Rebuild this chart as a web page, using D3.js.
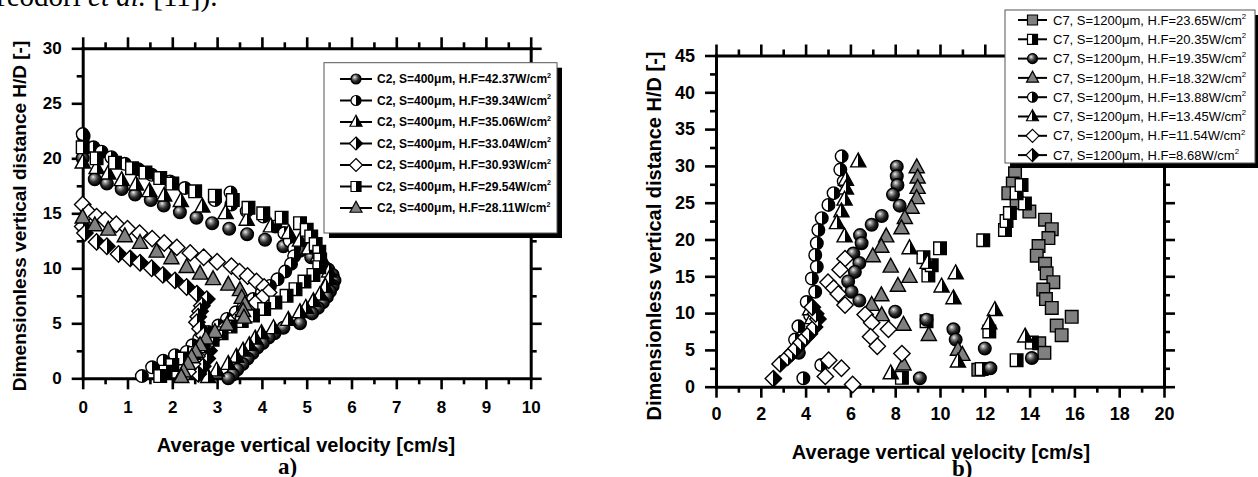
<!doctype html>
<html>
<head>
    <script src="https://d3js.org/d3.v7.min.js"></script>
    <style>
        body { margin: 0; background: #fff; }
        svg text { font-family: "Liberation Sans", Arial, sans-serif; }
    </style>
</head>
<body>
<svg width="1258" height="477"></svg>
<script>

    // ---------- panel a) : C2, S=400um ----------
    var velTicksA = [0, 1, 2, 3, 4, 5, 6, 7, 8, 9, 10];
    var velMinorA = [0.5, 1.5, 2.5, 3.5, 4.5, 5.5, 6.5, 7.5, 8.5, 9.5];
    var hdTicksA = [0, 5, 10, 15, 20, 25, 30];
    var hdMinorA = [2.5, 7.5, 12.5, 17.5, 22.5, 27.5];
    var heatFluxA = ["42.37", "39.34", "35.06", "33.04", "30.93", "29.54", "28.11"];

    // [velocity cm/s, H/D]
    var a1 = [[0.02,22.0],[0.0,20.0],[0.27,18.1],[0.54,17.7],[0.87,17.2],[1.17,16.7],[1.52,16.2],[1.81,15.7],[2.17,15.1],[2.54,14.6],[2.89,14.1],[3.27,13.6],[3.67,13.1],[4.07,12.6],[4.48,12.0],[4.85,11.6],[5.10,11.0],[5.30,10.4],[5.48,9.9],[5.58,9.4],[5.62,8.9],[5.58,8.4],[5.52,7.9],[5.45,7.4],[5.36,6.9],[5.25,6.4],[5.12,5.9],[4.85,5.0],[4.48,4.6],[4.28,4.1],[4.15,3.7],[4.02,3.2],[3.90,2.8],[3.79,2.3],[3.68,1.8],[3.57,1.3],[3.45,0.8],[3.35,0.35],[3.25,0.0]];
    var a2 = [[0.0,22.2],[0.24,21.0],[0.42,20.6],[0.64,20.1],[0.94,19.5],[1.24,19.0],[1.54,18.5],[1.95,17.9],[2.28,17.3],[2.95,16.2],[3.30,16.9],[3.32,15.8],[3.66,15.2],[4.03,14.7],[4.30,13.8],[4.50,13.2],[4.62,12.5],[4.72,11.8],[4.72,11.1],[4.65,10.4],[4.52,9.7],[4.35,9.0],[4.18,8.4],[4.00,7.8],[3.80,7.2],[3.60,6.6],[3.42,6.0],[3.22,5.4],[3.03,4.8],[2.80,4.2],[2.60,3.6],[2.45,3.0],[2.32,2.4],[2.06,2.1],[1.80,1.6],[1.55,1.0],[1.32,0.2]];
    var a3 = [[0.0,19.6],[0.31,19.1],[0.57,18.6],[0.87,18.0],[1.19,17.6],[1.49,17.0],[1.82,16.6],[2.19,16.1],[2.67,15.6],[3.19,15.0],[3.66,14.4],[4.20,13.8],[4.60,13.2],[4.85,12.5],[5.05,11.8],[5.25,11.1],[5.40,10.4],[5.50,9.7],[5.50,9.0],[5.42,8.3],[5.30,7.6],[5.15,7.0],[4.98,6.4],[4.85,6.0],[4.59,5.3],[4.26,4.55],[3.99,4.1],[3.85,3.6],[3.72,3.0],[3.58,2.5],[3.43,1.95],[3.25,1.3],[2.99,0.7],[2.80,0.1]];
    var a4 = [[0.0,13.8],[0.05,13.2],[0.31,12.4],[0.54,12.0],[0.80,11.3],[1.06,10.9],[1.28,10.5],[1.54,10.0],[1.79,9.4],[2.06,8.9],[2.32,8.3],[2.55,7.7],[2.77,7.2],[2.66,6.6],[2.62,6.1],[2.58,5.6],[2.55,5.1],[2.62,4.5],[2.70,3.9],[2.78,3.2],[2.82,2.5],[2.78,1.8],[2.68,1.1],[2.58,0.4]];
    var a5 = [[0.0,15.8],[0.13,15.1],[0.31,14.7],[0.50,14.4],[0.75,14.0],[1.00,13.6],[1.27,13.2],[1.55,12.7],[1.82,12.3],[2.10,11.9],[2.40,11.4],[2.70,11.0],[3.00,10.6],[3.32,10.2],[3.50,9.7],[3.68,9.3],[3.88,8.8],[4.05,8.3],[4.15,7.8],[4.00,7.3],[3.85,6.8],[3.68,6.2],[3.50,5.6],[3.30,5.0],[3.12,4.4],[2.95,3.8],[2.80,3.2],[2.66,2.6],[2.55,2.0],[2.45,1.3],[2.35,0.6]];
    var a6 = [[0.0,21.0],[0.31,20.0],[0.72,19.6],[1.10,19.1],[1.40,18.7],[1.73,18.2],[2.00,17.7],[2.51,17.0],[2.95,16.6],[3.35,16.2],[3.70,15.5],[4.03,15.0],[4.44,14.6],[4.85,14.1],[5.00,13.5],[5.10,12.9],[5.20,12.2],[5.28,11.5],[5.30,10.8],[5.28,10.1],[5.15,9.4],[4.95,8.8],[4.75,8.1],[4.55,7.5],[4.30,6.9],[4.05,6.3],[3.80,5.7],[3.55,5.2],[3.30,4.7],[3.10,4.1],[2.90,3.5],[2.70,2.9],[2.50,2.3],[2.25,1.8],[2.00,1.2],[1.85,0.6],[1.73,0.2]];
    var a7 = [[0.0,14.6],[0.27,13.9],[0.57,13.5],[0.94,12.9],[1.28,12.3],[1.65,11.5],[1.98,10.9],[2.32,10.1],[2.62,9.5],[2.91,9.0],[3.25,8.5],[3.51,8.0],[3.55,7.3],[3.62,6.7],[3.58,6.1],[3.60,5.5],[3.22,4.85],[2.95,4.2],[2.75,3.6],[2.62,3.0],[2.52,2.4],[2.43,1.9],[2.35,1.3],[2.25,0.6],[2.20,0.1]];

    var seriesA = [a1, a2, a3, a4, a5, a6, a7];
    var shapesA = ["circle", "circle", "triangle", "diamond", "diamond", "square", "triangle"];
    var fillsA = ["sphere", "half", "half", "half", "white", "half", "gray"];

    // ---------- panel b) : C7, S=1200um ----------
    var velTicksB = [0, 2, 4, 6, 8, 10, 12, 14, 16, 18, 20];
    var velMinorB = [1, 3, 5, 7, 9, 11, 13, 15, 17, 19];
    var hdTicksB = [0, 5, 10, 15, 20, 25, 30, 35, 40, 45];
    var hdMinorB = [2.5, 7.5, 12.5, 17.5, 22.5, 27.5, 32.5, 37.5, 42.5];
    var heatFluxB = ["23.65", "20.35", "19.35", "18.32", "13.88", "13.45", "11.54", "8.68"];

    var b1 = [[13.35,29.0],[13.25,27.6],[13.05,26.3],[13.42,25.0],[13.99,23.8],[14.69,22.7],[14.99,21.4],[14.84,20.2],[14.40,19.1],[14.32,17.8],[14.69,16.7],[14.76,15.4],[15.06,14.2],[14.61,13.2],[14.73,11.9],[14.99,10.7],[15.88,9.5],[15.21,8.3],[15.43,7.0],[14.43,5.9],[14.66,4.6],[11.71,2.3]];
    var b2 = [[8.3,1.2],[9.4,8.9],[9.48,15.1],[9.63,16.5],[9.26,17.6],[10.0,18.8],[11.93,19.9],[12.9,21.3],[12.97,22.5],[13.12,23.6],[13.79,24.9],[13.42,26.3],[13.64,27.4],[12.2,7.5],[14.1,6.0],[13.42,3.6],[11.86,2.4]];
    var b3 = [[8.07,29.9],[8.07,28.6],[8.1,27.4],[7.9,26.1],[8.2,24.6],[7.4,23.2],[6.95,22.0],[6.43,20.6],[6.5,19.5],[6.13,18.1],[6.4,16.8],[6.2,15.6],[5.9,14.3],[6.05,12.9],[6.4,11.7],[8.0,10.2],[9.4,9.1],[10.6,7.8],[10.7,6.4],[12.0,5.2],[12.25,2.5],[14.1,3.9],[9.1,1.15],[3.7,4.6]];
    var b4 = [[8.96,29.8],[9.0,28.4],[9.0,27.0],[8.96,25.6],[8.73,24.3],[8.43,22.9],[8.28,21.5],[7.6,20.4],[7.38,19.0],[7.0,17.7],[7.8,16.3],[8.64,14.9],[8.12,13.7],[7.38,12.4],[6.95,11.1],[7.4,9.7],[8.37,8.4],[9.5,7.0],[8.37,3.0],[10.8,5.0],[11.0,4.3]];
    var b5 = [[5.61,31.3],[5.55,29.5],[5.7,27.9],[5.25,26.3],[5.02,24.7],[4.72,22.9],[4.57,21.3],[4.5,19.5],[4.43,17.9],[4.5,16.3],[4.28,14.7],[4.43,12.9],[4.05,11.5],[4.2,9.7],[3.68,8.2],[3.53,6.4],[4.7,2.95],[3.9,1.15]];
    var b6 = [[6.35,30.6],[5.8,28.1],[5.8,26.9],[5.74,25.4],[5.6,23.8],[5.4,22.2],[5.74,20.4],[8.64,18.8],[9.45,16.8],[10.7,15.4],[10.07,13.6],[10.6,12.0],[12.45,10.4],[12.2,8.6],[13.8,6.8],[10.8,3.4],[7.8,1.8],[4.2,10.5],[4.3,9.3]];
    var b7 = [[5.76,17.4],[5.54,15.9],[5.0,14.2],[5.25,13.4],[5.46,12.6],[5.76,11.1],[6.66,9.8],[6.95,8.7],[7.7,7.8],[6.9,6.8],[7.2,5.5],[8.3,4.5],[5.03,3.6],[5.6,2.5],[4.88,1.4],[6.1,0.3]];
    var b8 = [[2.56,1.1],[2.86,3.1],[3.2,4.0],[3.4,4.6],[3.57,5.2],[3.8,6.0],[4.0,6.7],[4.17,7.2],[4.4,8.1],[4.55,9.2],[4.45,9.9],[4.3,10.8]];

    var seriesB = [b1, b2, b3, b4, b5, b6, b7, b8];
    var shapesB = ["square", "square", "circle", "triangle", "circle", "triangle", "diamond", "diamond"];
    var fillsB = ["gray", "half", "sphere", "gray", "half", "half", "white", "half"];

    var svg = d3.select("svg");
    svg.append("rect").attr("width", 1258).attr("height", 477).attr("fill", "#fff");

    var defs = svg.append("defs");
    var rg = defs.append("radialGradient").attr("id", "sphere")
        .attr("cx", "40%").attr("cy", "38%").attr("r", "62%").attr("fx", "36%").attr("fy", "32%");
    [[0, "#f2f2f2"], [0.22, "#9c9c9c"], [0.6, "#2e2e2e"], [1, "#000"]].forEach(function(s) {
        rg.append("stop").attr("offset", s[0]).attr("stop-color", s[1]);
    });
    var hg = defs.append("linearGradient").attr("id", "half")
        .attr("x1", 0).attr("y1", 0).attr("x2", 1).attr("y2", 0);
    [[0, "#fff"], [0.5, "#fff"], [0.5, "#000"], [1, "#000"]].forEach(function(s) {
        hg.append("stop").attr("offset", s[0]).attr("stop-color", s[1]);
    });

    function shapePath(type, r) {
        if (type == "circle") return d3.symbol(d3.symbolCircle, Math.PI * r * r)();
        if (type == "square") return "M" + (-r) + "," + (-r) + "H" + r + "V" + r + "H" + (-r) + "Z";
        if (type == "diamond") {
            var d = r * 1.3;
            return "M0," + (-d) + "L" + d + ",0L0," + d + "L" + (-d) + ",0Z";
        }
        return "M0," + (-r * 1.35) + "L" + (r * 1.2) + "," + (r * 0.85) + "L" + (-r * 1.2) + "," + (r * 0.85) + "Z";
    }

    function fillOf(f) {
        if (f == "sphere") return "url(#sphere)";
        if (f == "half") return "url(#half)";
        if (f == "gray") return "#808080";
        return "#fff";
    }

    function styleAxis(sel, fs) {
        sel.select(".domain").attr("stroke", "#000").attr("stroke-width", 3).attr("stroke-linecap", "square");
        sel.selectAll(".tick line").attr("stroke", "#000").attr("stroke-width", 2.6);
        sel.selectAll("text").attr("fill", "#000")
            .style("font-size", fs + "px").style("font-weight", "bold")
            .style("font-family", '"Liberation Sans", Arial, sans-serif');
    }

    function drawFrame(x, y, xMaj, xMin, yMaj, yMin, fs, padX, padY) {
        var g = svg.append("g");
        var bottom = y.range()[0], top = y.range()[1], left = x.range()[0], right = x.range()[1];

        // minor ticks
        g.append("g").attr("transform", "translate(0," + bottom + ")")
            .call(d3.axisBottom(x).tickValues(xMin).tickSize(6).tickFormat(""))
            .call(function(s) { s.select(".domain").remove(); styleAxis(s, fs); });
        g.append("g").attr("transform", "translate(0," + top + ")")
            .call(d3.axisTop(x).tickValues(xMin).tickSize(6).tickFormat(""))
            .call(function(s) { s.select(".domain").remove(); styleAxis(s, fs); });
        g.append("g").attr("transform", "translate(" + left + ",0)")
            .call(d3.axisLeft(y).tickValues(yMin).tickSize(6).tickFormat(""))
            .call(function(s) { s.select(".domain").remove(); styleAxis(s, fs); });
        g.append("g").attr("transform", "translate(" + right + ",0)")
            .call(d3.axisRight(y).tickValues(yMin).tickSize(6).tickFormat(""))
            .call(function(s) { s.select(".domain").remove(); styleAxis(s, fs); });

        // major ticks + labels
        g.append("g").attr("transform", "translate(0," + bottom + ")")
            .call(d3.axisBottom(x).tickValues(xMaj).tickSize(11).tickSizeOuter(0).tickPadding(padX))
            .call(styleAxis, fs);
        g.append("g").attr("transform", "translate(0," + top + ")")
            .call(d3.axisTop(x).tickValues(xMaj).tickSize(11).tickSizeOuter(0).tickFormat(""))
            .call(styleAxis, fs);
        g.append("g").attr("transform", "translate(" + left + ",0)")
            .call(d3.axisLeft(y).tickValues(yMaj).tickSize(11).tickSizeOuter(0).tickPadding(padY))
            .call(styleAxis, fs);
        g.append("g").attr("transform", "translate(" + right + ",0)")
            .call(d3.axisRight(y).tickValues(yMaj).tickSize(11).tickSizeOuter(0).tickFormat(""))
            .call(styleAxis, fs);
    }

    function drawPoints(x, y, series, shapes, fills, r) {
        series.forEach(function(data, i) {
            svg.append("g").selectAll("path")
                .data(data)
                .enter().append("path")
                .attr("transform", function(d) { return "translate(" + x(d[0]) + "," + y(d[1]) + ")"; })
                .attr("d", shapePath(shapes[i], r))
                .attr("fill", fillOf(fills[i]))
                .attr("stroke", "#000")
                .attr("stroke-width", 1.4);
        });
    }

    function drawLegend(box, labels, prefix, shapes, fills, opt) {
        var g = svg.append("g");
        g.append("rect").attr("x", box[0] + 5).attr("y", box[1] + 5)
            .attr("width", box[2] - box[0]).attr("height", box[3] - box[1]).attr("fill", "#000");
        g.append("rect").attr("x", box[0]).attr("y", box[1])
            .attr("width", box[2] - box[0]).attr("height", box[3] - box[1])
            .attr("fill", "#fff").attr("stroke", "#555").attr("stroke-width", 1);
        labels.forEach(function(hf, i) {
            var cy = opt.y0 + i * opt.dy;
            g.append("line").attr("x1", opt.lx1).attr("x2", opt.lx2).attr("y1", cy).attr("y2", cy)
                .attr("stroke", "#000").attr("stroke-width", 2);
            g.append("path").attr("transform", "translate(" + ((opt.lx1 + opt.lx2) / 2) + "," + cy + ")")
                .attr("d", shapePath(shapes[i], opt.r))
                .attr("fill", fillOf(fills[i])).attr("stroke", "#000").attr("stroke-width", 1.2);
            var t = g.append("text").attr("x", opt.tx).attr("y", cy + opt.fs * 0.36)
                .attr("font-size", opt.fs + "px").attr("font-weight", opt.weight)
                .text(prefix + hf + "W/cm");
            t.append("tspan").attr("dy", -opt.fs * 0.45).attr("font-size", (opt.fs * 0.6) + "px").text("2");
        });
    }

    // text running above the figure
    svg.append("text").attr("x", -9).attr("y", 6)
        .style("font-family", '"Liberation Serif", "Times New Roman", serif')
        .attr("font-size", "29px")
        .html('Teodori <tspan font-style="italic">et al.</tspan> [11]).');

    // ---------- panel a) ----------
    var xA = d3.scaleLinear().domain([0, 10]).range([82.7, 530.7]);
    var yA = d3.scaleLinear().domain([0, 30]).range([378.3, 48.3]);
    drawFrame(xA, yA, velTicksA, velMinorA, hdTicksA, hdMinorA, 17, 12, 10);
    drawPoints(xA, yA, seriesA, shapesA, fillsA, 6.3);

    svg.append("text").attr("x", 306).attr("y", 452).attr("text-anchor", "middle")
        .attr("font-size", "20px").attr("font-weight", "bold")
        .text("Average vertical velocity [cm/s]");
    svg.append("text").attr("transform", "translate(26,216) rotate(-90)").attr("text-anchor", "middle")
        .attr("font-size", "19px").attr("font-weight", "bold")
        .text("Dimensionless vertical distance H/D [-]");
    svg.append("text").attr("x", 278).attr("y", 474)
        .style("font-family", '"Liberation Serif", "Times New Roman", serif')
        .attr("font-size", "23px").attr("font-weight", "bold").text("a)");

    drawLegend([324, 62.7, 557, 233], heatFluxA, "C2, S=400\u03bcm, H.F=", shapesA, fillsA,
        {y0: 79, dy: 21.5, lx1: 340, lx2: 372, tx: 377, r: 5, fs: 12, weight: "bold"});

    // ---------- panel b) ----------
    var xB = d3.scaleLinear().domain([0, 20]).range([716, 1164]);
    var yB = d3.scaleLinear().domain([0, 45]).range([386.7, 55.5]);
    drawFrame(xB, yB, velTicksB, velMinorB, hdTicksB, hdMinorB, 18, 10, 10);
    drawPoints(xB, yB, seriesB, shapesB, fillsB, 6.3);

    svg.append("text").attr("x", 941).attr("y", 459).attr("text-anchor", "middle")
        .attr("font-size", "20px").attr("font-weight", "bold")
        .text("Average vertical velocity [cm/s]");
    svg.append("text").attr("transform", "translate(661,236) rotate(-90)").attr("text-anchor", "middle")
        .attr("font-size", "20px").attr("font-weight", "bold")
        .text("Dimensionless vertical distance H/D [-]");
    svg.append("text").attr("x", 952).attr("y", 476)
        .style("font-family", '"Liberation Serif", "Times New Roman", serif')
        .attr("font-size", "23px").attr("font-weight", "bold").text("b)");

    drawLegend([1005, 10, 1255, 163], heatFluxB, "C7, S=1200\u03bcm, H.F=", shapesB, fillsB,
        {y0: 20, dy: 19.3, lx1: 1018, lx2: 1047, tx: 1053, r: 5, fs: 13, weight: "normal"});

</script>
</body>
</html>
